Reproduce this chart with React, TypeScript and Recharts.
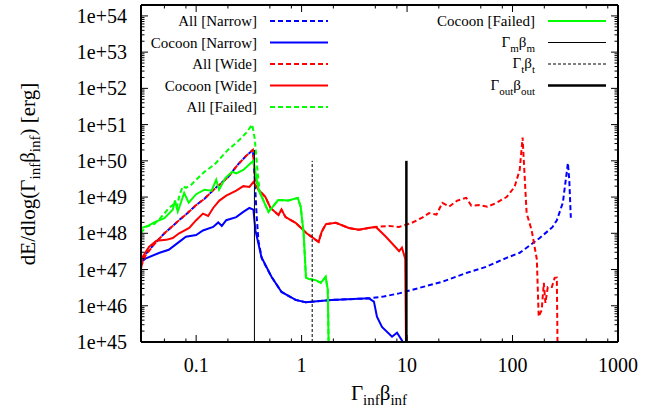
import React from "react";
import { LineChart, Line, XAxis, YAxis, ReferenceLine } from "recharts";

// Γβ grid of each run
const allNarrowX = [0.03, 0.033, 0.04, 0.05, 0.06, 0.07, 0.08, 0.1, 0.12, 0.15, 0.2, 0.25, 0.3, 0.345, 0.36, 0.375, 0.39, 0.42, 0.518, 0.645, 0.877, 1.09, 1.93, 4.34, 6, 8.4, 13, 21.6, 36.4, 56.7, 87.8, 117, 136, 181, 240, 263, 300, 335, 345, 357];
const allNarrowY = [1.8e47, 2.6e47, 5e47, 1e48, 1.6e48, 2.4e48, 3.3e48, 6e48, 9e48, 1.7e49, 3.5e49, 8e49, 1.4e50, 2e50, 3e49, 3e48, 6e47, 2e47, 6.3e46, 2.4e46, 1.45e46, 1.25e46, 1.45e46, 1.6e46, 1.8e46, 2.2e46, 3.1e46, 4.6e46, 8e46, 1.2e47, 2.1e47, 2.9e47, 4e47, 7.4e47, 1.5e48, 2.3e48, 7e48, 8.7e49, 3e49, 2.7e48];

const cocoonNarrowX = [0.03, 0.033, 0.045, 0.055, 0.069, 0.08, 0.1, 0.116, 0.145, 0.162, 0.175, 0.193, 0.24, 0.28, 0.32, 0.349, 0.365, 0.416, 0.518, 0.645, 0.877, 1.09, 1.93, 4.34, 4.85, 5.18, 5.78, 7.2, 8.03, 8.94, 9.8];
const cocoonNarrowY = [1.6e47, 2e47, 2.9e47, 3.5e47, 5.8e47, 8e47, 9e47, 1.2e48, 1.5e48, 2e48, 1.6e48, 2.3e48, 2.8e48, 3.9e48, 5e48, 4.5e48, 1.2e48, 2.2e47, 6.3e46, 2.4e46, 1.45e46, 1.25e46, 1.45e46, 1.6e46, 1.3e46, 5e45, 2.6e45, 1.4e45, 1.8e45, 1.1e45, 5e44];

const allWideX = [0.03, 0.033, 0.04, 0.05, 0.06, 0.07, 0.08, 0.1, 0.12, 0.15, 0.2, 0.25, 0.3, 0.345, 0.36, 0.39, 0.454, 0.507, 0.604, 0.645, 0.704, 0.877, 1.116, 1.245, 1.36, 1.45, 1.55, 1.7, 2.11, 2.8, 3.49, 4.3, 5.06, 6.72, 8.4, 11.1, 13.9, 16.2, 19, 21.6, 25.1, 29.9, 36.4, 40.6, 48.4, 57.8, 70.2, 87.8, 104.5, 116.9, 124.6, 127, 136, 152, 170, 177, 189, 198, 205, 216, 236, 251, 263, 268];
const allWideY = [1.2e47, 2.4e47, 5e47, 1e48, 1.6e48, 2.4e48, 3.3e48, 6e48, 9e48, 1.7e49, 3.5e49, 8e49, 1.4e50, 2e50, 4e49, 1.6e49, 1e49, 5e48, 3.2e48, 4.5e48, 2.8e48, 1.95e48, 1e48, 8e47, 6.6e47, 5.8e47, 1.1e48, 1.8e48, 1.95e48, 1.4e48, 1.25e48, 1.4e48, 1.5e48, 1.6e48, 1.5e48, 1.95e48, 2.7e48, 3.6e48, 3.3e48, 6.9e48, 5.5e48, 8e48, 9.5e48, 5.8e48, 6e48, 5.4e48, 6.9e48, 1e49, 1.9e49, 5.6e49, 4.4e50, 1.5e50, 3.6e48, 1.2e48, 1.9e47, 5e45, 7.6e45, 4.3e46, 1.2e46, 3.3e46, 3.3e46, 5.9e46, 6e46, 3e44];

const cocoonWideX = [0.03, 0.031, 0.0357, 0.042, 0.052, 0.06, 0.069, 0.086, 0.1, 0.116, 0.13, 0.145, 0.166, 0.193, 0.24, 0.28, 0.32, 0.349, 0.39, 0.454, 0.507, 0.604, 0.645, 0.704, 0.877, 1.116, 1.245, 1.36, 1.45, 1.55, 1.7, 2.11, 2.8, 3.49, 4.3, 5.06, 6.3, 7.86, 8.4, 8.94, 9.6, 9.8];
const cocoonWideY = [1e47, 2.2e47, 4.2e47, 6.2e47, 6.6e47, 7.4e47, 1e48, 1.4e48, 2.3e48, 3.5e48, 3e48, 5e48, 8e48, 1.1e49, 1.5e49, 2e49, 1.9e49, 2.6e49, 1.6e49, 1e49, 5e48, 3.2e48, 4.5e48, 2.8e48, 1.95e48, 1e48, 8e47, 6.6e47, 5.8e47, 1.1e48, 1.8e48, 1.95e48, 1.4e48, 1.25e48, 1.4e48, 1.5e48, 8e47, 4e47, 3.2e47, 4e47, 2e47, 3e44];

const allFailedX = [0.03, 0.033, 0.04, 0.045, 0.05, 0.055, 0.06, 0.065, 0.07, 0.075, 0.08, 0.09, 0.1, 0.12, 0.15, 0.2, 0.25, 0.3, 0.34, 0.36, 0.38, 0.4, 0.485, 0.6, 0.75, 0.92, 0.98, 1.045, 1.1, 1.17, 1.36, 1.52, 1.69, 1.77, 1.81];
const allFailedY = [1e48, 1.5e48, 1.8e48, 2.5e48, 3.5e48, 5e48, 6e48, 5e48, 1.2e49, 2e49, 1.8e49, 2.2e49, 3e49, 5e49, 8e49, 2e50, 3.5e50, 6e50, 1e51, 4e50, 6e49, 1.4e49, 3.9e48, 8.3e48, 8e48, 9.5e48, 5.4e48, 1e48, 6e46, 5.5e46, 5.1e46, 4.3e46, 6.3e46, 2.8e46, 5e44];

const cocoonFailedX = [0.03, 0.035, 0.04, 0.05, 0.06, 0.063, 0.067, 0.077, 0.085, 0.1, 0.12, 0.14, 0.155, 0.165, 0.19, 0.22, 0.24, 0.28, 0.33, 0.35, 0.39, 0.485, 0.6, 0.75, 0.92, 0.98, 1.045, 1.1, 1.17, 1.36, 1.52, 1.69, 1.77, 1.81];
const cocoonFailedY = [1.4e48, 1.6e48, 2e48, 2.6e48, 4.5e48, 8e48, 4e48, 1.3e49, 7e48, 1.2e49, 1.6e49, 1.5e49, 3e49, 1.6e49, 3.4e49, 5e49, 4.5e49, 5.6e49, 8.7e49, 1e50, 1.6e49, 3.9e48, 8.3e48, 8e48, 9.5e48, 5.4e48, 1e48, 6e46, 5.5e46, 5.1e46, 4.3e46, 6.3e46, 2.8e46, 5e44];

// characteristic four-velocities (vertical markers) and where they stop
const markerX = [0.357, 1.26, 9.85];
const markerTop = [2e50, 1e50, 1e50];

const xMajor = [0.1, 1, 10, 100, 1000];
const xMinor = [0.05, 0.08, 0.2, 0.5, 0.8, 2, 5, 8, 20, 50, 80, 200, 500, 800];
const yMajor = [1e45, 1e46, 1e47, 1e48, 1e49, 1e50, 1e51, 1e52, 1e53, 1e54];
const yMinor = yMajor.slice(0, 9).flatMap((d) => [2, 3, 4, 5, 6, 7, 8, 9].map((k) => k * d));

const FONT = '"Liberation Serif", "Times New Roman", serif';
const W = 664;
const H = 413;

const pts = (xs: number[], ys: number[]) => xs.map((x, i) => ({ x, y: ys[i] }));

const series = [
  { name: "All [Narrow]", data: pts(allNarrowX, allNarrowY), color: "#0000ff", dash: "5 3" },
  { name: "Cocoon [Narrow]", data: pts(cocoonNarrowX, cocoonNarrowY), color: "#0000ff" },
  { name: "All [Wide]", data: pts(allWideX, allWideY), color: "#ff0000", dash: "5 3" },
  { name: "Cocoon [Wide]", data: pts(cocoonWideX, cocoonWideY), color: "#ff0000" },
  { name: "All [Failed]", data: pts(allFailedX, allFailedY), color: "#00ff00", dash: "5 3" },
  { name: "Cocoon [Failed]", data: pts(cocoonFailedX, cocoonFailedY), color: "#00ff00" },
];

const markers = [
  { sub: "m", width: 1, dash: undefined as string | undefined },
  { sub: "t", width: 1, dash: "3 2" },
  { sub: "out", width: 2.5, dash: undefined as string | undefined },
];

const isMajor = (v: number) => Math.abs(Math.log10(v) - Math.round(Math.log10(v))) < 1e-6;

function makeTick(side: "bottom" | "top" | "left" | "right") {
  return (props: any) => {
    const { x, y, payload } = props;
    const v = payload.value;
    const major = isMajor(v);
    const len = major ? 7 : 3.5;
    let line;
    if (side === "bottom") line = <line x1={x} y1={y} x2={x} y2={y - len} />;
    else if (side === "top") line = <line x1={x} y1={y} x2={x} y2={y + len} />;
    else if (side === "left") line = <line x1={x} y1={y} x2={x + len} y2={y} />;
    else line = <line x1={x} y1={y} x2={x - len} y2={y} />;
    let label = null;
    if (major && side === "bottom") {
      label = (
        <text x={x} y={y + 30} textAnchor="middle" fontSize={20} fontFamily={FONT} fill="#000" stroke="none">
          {String(v)}
        </text>
      );
    } else if (major && side === "left") {
      label = (
        <text x={x - 14} y={y + 7} textAnchor="end" fontSize={20} fontFamily={FONT} fill="#000" stroke="none">
          {`1e+${Math.round(Math.log10(v))}`}
        </text>
      );
    }
    return (
      <g stroke="#000" strokeWidth={1}>
        {line}
        {label}
      </g>
    );
  };
}

// Γ_sub β_sub, leaves the baseline lowered by 5px
function GammaBeta({ sub, size, subSize }: { sub: string; size: number; subSize: number }) {
  return (
    <>
      <tspan fontSize={size}>Γ</tspan>
      <tspan fontSize={subSize} dy={5}>{sub}</tspan>
      <tspan fontSize={size} dy={-5}>β</tspan>
      <tspan fontSize={subSize} dy={5}>{sub}</tspan>
    </>
  );
}

function Overlay() {
  const rowY = (i: number) => 21 + i * 21.5;
  const left = series.slice(0, 5);
  return (
    <svg width={W} height={H} style={{ position: "absolute", left: 0, top: 0, pointerEvents: "none" }} fontFamily={FONT}>
      {left.map((s, i) => (
        <g key={s.name}>
          <text x={257} y={rowY(i) + 5} textAnchor="end" fontSize={15}>{s.name}</text>
          <line x1={270} x2={328} y1={rowY(i)} y2={rowY(i)} stroke={s.color} strokeWidth={2} strokeDasharray={s.dash} />
        </g>
      ))}
      <g>
        <text x={535} y={rowY(0) + 5} textAnchor="end" fontSize={15}>{series[5].name}</text>
        <line x1={548} x2={606} y1={rowY(0)} y2={rowY(0)} stroke={series[5].color} strokeWidth={2} />
      </g>
      {markers.map((m, i) => (
        <g key={m.sub}>
          <text x={535} y={rowY(i + 1) + 4} textAnchor="end" fontSize={15}>
            <GammaBeta sub={m.sub} size={15} subSize={11} />
          </text>
          <line x1={548} x2={606} y1={rowY(i + 1)} y2={rowY(i + 1)} stroke="#000" strokeWidth={m.width} strokeDasharray={m.dash} />
        </g>
      ))}
      <text x={379} y={400} textAnchor="middle" fontSize={21}>
        <GammaBeta sub="inf" size={21} subSize={15} />
      </text>
      <text x={35} y={174} textAnchor="middle" fontSize={21} transform="rotate(-90 35 174)">
        <tspan>dE/dlog(</tspan>
        <GammaBeta sub="inf" size={21} subSize={15} />
        <tspan dy={-5}>) [erg]</tspan>
      </text>
    </svg>
  );
}

export default function App() {
  return (
    <div style={{ position: "absolute", left: 0, top: 0, width: W, height: H, background: "#fff" }}>
      <LineChart width={W} height={H} margin={{ top: 0, right: 0, bottom: 0, left: 0 }}>
        <XAxis
          xAxisId="b"
          type="number"
          dataKey="x"
          scale="log"
          domain={[0.03, 1000]}
          allowDataOverflow
          ticks={[...xMajor, ...xMinor]}
          interval={0}
          height={71}
          tickSize={0}
          tickMargin={0}
          tickLine={false}
          tick={makeTick("bottom")}
          axisLine={{ stroke: "#000", strokeWidth: 2 }}
        />
        <XAxis
          xAxisId="t"
          orientation="top"
          type="number"
          dataKey="x"
          scale="log"
          domain={[0.03, 1000]}
          allowDataOverflow
          ticks={[...xMajor, ...xMinor]}
          interval={0}
          height={5}
          tickSize={0}
          tickMargin={0}
          tickLine={false}
          tick={makeTick("top")}
          axisLine={{ stroke: "#000", strokeWidth: 2 }}
        />
        <YAxis
          yAxisId="l"
          type="number"
          dataKey="y"
          scale="log"
          domain={[1e45, 2e54]}
          allowDataOverflow
          ticks={[...yMajor, ...yMinor]}
          interval={0}
          width={141}
          tickSize={0}
          tickMargin={0}
          tickLine={false}
          tick={makeTick("left")}
          axisLine={{ stroke: "#000", strokeWidth: 2 }}
        />
        <YAxis
          yAxisId="r"
          orientation="right"
          type="number"
          dataKey="y"
          scale="log"
          domain={[1e45, 2e54]}
          allowDataOverflow
          ticks={[...yMajor, ...yMinor]}
          interval={0}
          width={46}
          tickSize={0}
          tickMargin={0}
          tickLine={false}
          tick={makeTick("right")}
          axisLine={{ stroke: "#000", strokeWidth: 2 }}
        />
        {series.map((s) => (
          <Line
            key={s.name}
            xAxisId="b"
            yAxisId="l"
            data={s.data}
            dataKey="y"
            type="linear"
            stroke={s.color}
            strokeWidth={2}
            strokeDasharray={s.dash}
            dot={false}
            activeDot={false}
            isAnimationActive={false}
          />
        ))}
        {markers.map((m, i) => (
          <ReferenceLine
            key={m.sub}
            xAxisId="b"
            yAxisId="l"
            segment={[
              { x: markerX[i], y: 1e45 },
              { x: markerX[i], y: markerTop[i] },
            ]}
            stroke="#000"
            strokeWidth={m.width}
            strokeDasharray={m.dash}
          />
        ))}
      </LineChart>
      <Overlay />
    </div>
  );
}
